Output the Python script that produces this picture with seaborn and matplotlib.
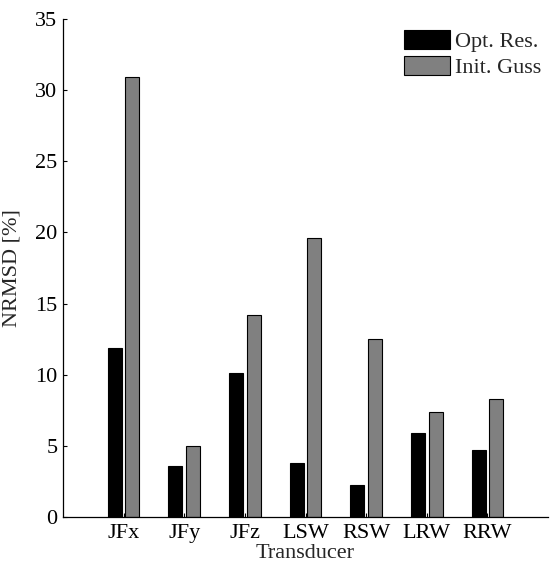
import matplotlib
matplotlib.use("Agg")
import matplotlib.pyplot as plt
import seaborn as sns
import pandas as pd

# NRMSD per transducer: optimised result vs. initial guess
transducers = ["JFx", "JFy", "JFz", "LSW", "RSW", "LRW", "RRW"]
opt_res = [11.9, 3.6, 10.15, 3.8, 2.25, 5.9, 4.7]
init_guess = [30.9, 5.0, 14.2, 19.6, 12.5, 7.35, 8.3]
series_names = ["Opt. Res.", "Init. Guss"]
y_ticks = [0, 5, 10, 15, 20, 25, 30, 35]

df = pd.DataFrame({
    "Transducer": transducers * 2,
    "NRMSD": opt_res + init_guess,
    "Series": [series_names[0]] * len(transducers) + [series_names[1]] * len(transducers),
})

FS = 16

sns.set_theme(style="white")
plt.rcParams["font.family"] = ["Liberation Serif", "DejaVu Serif"]
plt.rcParams["font.size"] = FS

fig = plt.figure(figsize=(5.5, 5.66), dpi=100)
ax = fig.add_axes([63 / 550, 1 - 517 / 566, 485 / 550, 498 / 566])

sns.barplot(
    data=df, x="Transducer", y="NRMSD", hue="Series",
    order=transducers, hue_order=series_names,
    palette=["#000000", "#808080"], width=0.58, gap=0.2,
    edgecolor="black", linewidth=0.8, saturation=1, ax=ax,
)

ax.set_xlim(-1, 7)
ax.set_ylim(0, 35)
ax.set_yticks(y_ticks)
ax.set_yticklabels([str(v) for v in y_ticks])

for side in ("top", "right"):
    ax.spines[side].set_visible(False)
for side in ("left", "bottom"):
    ax.spines[side].set_color("black")
    ax.spines[side].set_linewidth(0.9)

ax.tick_params(axis="both", direction="in", length=3.2, width=0.8,
               colors="black", labelsize=FS, pad=4)
ax.tick_params(axis="y", left=True)
ax.tick_params(axis="x", bottom=True, pad=5)

ax.set_xlabel("Transducer", fontsize=FS, labelpad=0.5)
ax.set_ylabel("NRMSD [%]", fontsize=FS)
ax.yaxis.set_label_coords(-0.085, 0.5)

handles, labels = ax.get_legend_handles_labels()
ax.legend(
    handles, labels, loc="upper left",
    bbox_to_anchor=(404 / 550, 1 - 30 / 566), bbox_transform=fig.transFigure,
    frameon=False, borderpad=0, borderaxespad=0,
    handlelength=2.07, handleheight=0.95, handletextpad=0.22,
    labelspacing=0.18, fontsize=FS,
)

fig.savefig("out.png", dpi=100)
